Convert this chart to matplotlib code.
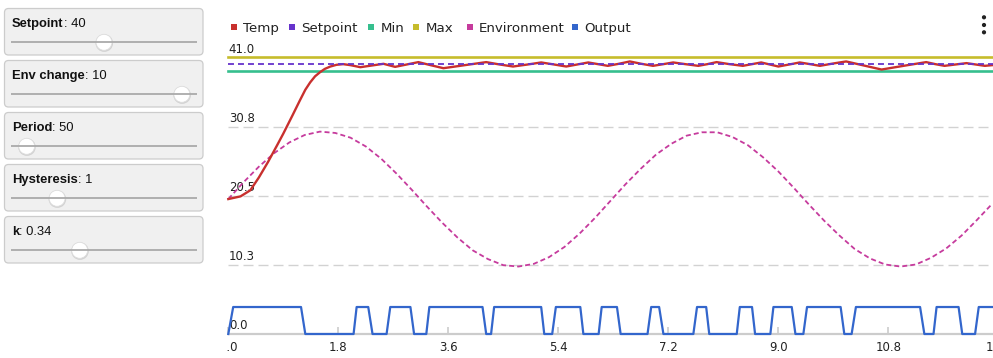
import matplotlib
matplotlib.use("Agg")
import matplotlib.pyplot as plt
from matplotlib import transforms as mtransforms
from matplotlib.patches import FancyBboxPatch, Circle, Rectangle

plt.rcParams["font.family"] = ["DejaVu Sans"]
plt.rcParams["lines.scale_dashes"] = False

# ---- data ------------------------------------------------------------------
slider_names = ["Setpoint", "Env change", "Period", "Hysteresis", "k"]
slider_values = ["40", "10", "50", "1", "0.34"]
slider_frac = [0.50, 0.958, 0.045, 0.224, 0.357]      # thumb position on track

series_names = ["Temp", "Setpoint", "Min", "Max", "Environment", "Output"]
series_colors = ["#c8302e", "#6633cc", "#36bf8e", "#c6bc2c", "#c63b9d", "#3366cc"]

setpoint = 40.0
min_level = 39.0
max_level = 41.0

temp_t = [0.0, 0.2, 0.36, 0.5, 0.65, 0.8, 0.9, 1.05, 1.17, 1.26, 1.34, 1.42,
          1.5, 1.58, 1.67, 1.77, 1.88, 2.0, 2.16, 2.35, 2.54, 2.73, 2.92, 3.11,
          3.31, 3.52, 3.87, 4.22, 4.44, 4.66, 4.9, 5.12, 5.33, 5.53, 5.71,
          5.89, 6.05, 6.21, 6.39, 6.57, 6.76, 6.95, 7.12, 7.28, 7.48, 7.69,
          7.84, 7.99, 8.2, 8.42, 8.57, 8.72, 8.86, 9.0, 9.18, 9.35, 9.52,
          9.68, 9.9, 10.11, 10.4, 10.69, 11.05, 11.42, 11.57, 11.72, 11.9,
          12.08, 12.23, 12.38, 12.5]
temp_v = [20.0, 20.4, 21.3, 23.2, 25.5, 28.0, 29.7, 32.4, 34.6, 36.2, 37.3, 38.2,
          38.8, 39.3, 39.65, 39.9, 40.0, 39.85, 39.55, 39.8, 40.05, 39.6, 39.95, 40.3,
          39.85, 39.4, 39.85, 40.3, 39.95, 39.65, 39.95, 40.25, 39.95, 39.65, 39.95,
          40.25, 40.0, 39.75, 40.05, 40.4, 40.05, 39.75, 40.0, 40.25, 40.0, 39.75,
          40.0, 40.3, 40.0, 39.75, 40.0, 40.25, 39.95, 39.65, 39.95, 40.25, 40.0,
          39.75, 40.1, 40.4, 39.8, 39.2, 39.75, 40.3, 40.0, 39.75, 39.95,
          40.15, 39.95, 39.75, 39.85]

env_t = [i * 0.25 for i in range(51)]
env_v = [20.0, 22.5, 24.8, 26.8, 28.4, 29.5, 30.0, 29.8, 29.1, 27.8, 26.0, 23.8,
         21.4, 18.9, 16.5, 14.3, 12.4, 11.1, 10.2, 10.0, 10.4, 11.4, 12.9, 14.9,
         17.2, 19.7, 22.2, 24.5, 26.6, 28.2, 29.4, 29.9, 29.9, 29.2, 28.0, 26.2,
         24.1, 21.7, 19.2, 16.8, 14.6, 12.6, 11.2, 10.3, 10.0, 10.3, 11.3, 12.7,
         14.6, 16.9, 19.3]

out_t = [0, 0.08, 1.19, 1.26, 2.05, 2.10, 2.29, 2.36, 2.59, 2.65, 2.98, 3.04,
         3.24, 3.29, 4.16, 4.22, 4.30, 4.35, 5.12, 5.17, 5.30, 5.36, 5.76, 5.81,
         6.06, 6.11, 6.36, 6.42, 6.86, 6.92, 7.05, 7.12, 7.61, 7.67, 7.82, 7.87,
         8.32, 8.37, 8.57, 8.62, 8.87, 8.92, 9.22, 9.28, 9.41, 9.47, 10.02, 10.08,
         10.20, 10.27, 11.32, 11.39, 11.54, 11.59, 11.95, 12.01, 12.22, 12.28, 12.6]
out_v = [0, 4, 4, 0, 0, 4, 4, 0, 0, 4, 4, 0,
         0, 4, 4, 0, 0, 4, 4, 0, 0, 4, 4, 0,
         0, 4, 4, 0, 0, 4, 4, 0, 0, 4, 4, 0,
         0, 4, 4, 0, 0, 4, 4, 0, 0, 4, 4, 0,
         0, 4, 4, 0, 0, 4, 4, 0, 0, 4, 4]

x_ticks = [0.0, 1.8, 3.6, 5.4, 7.2, 9.0, 10.8, 12.6]
x_labels = ["0.0", "1.8", "3.6", "5.4", "7.2", "9.0", "10.8", "12.6"]
y_ticks = [0.0, 10.25, 20.5, 30.75, 41.0]
y_labels = ["0.0", "10.3", "20.5", "30.8", "41.0"]

# ---- figure ----------------------------------------------------------------
W, H = 993, 358
fig = plt.figure(figsize=(W / 100, H / 100), dpi=100)
fig.patch.set_facecolor("white")

# pixel-space layer for the control panel, legend and menu icon
bg = fig.add_axes([0, 0, 1, 1])
bg.set_xlim(0, W)
bg.set_ylim(H, 0)
bg.axis("off")

renderer = fig.canvas.get_renderer()
for i, (name, val, frac) in enumerate(zip(slider_names, slider_values, slider_frac)):
    top = 8.5 + 52 * i
    bg.add_patch(FancyBboxPatch((4.5, top), 198.5, 46.5,
                                boxstyle="round,pad=0,rounding_size=4",
                                fc="#f0f0f0", ec="#cccccc", lw=0.9))
    t1 = bg.text(12, top + 18.8, name, fontsize=9.4, fontweight="bold",
                 family="Liberation Sans", va="baseline", color="#111111")
    bb = t1.get_window_extent(renderer=renderer)
    bg.text(bb.x1, top + 18.8, ": " + val, fontsize=9.4, family="Liberation Sans",
            va="baseline", color="#111111")
    ty = top + 33.8
    bg.plot([11, 197], [ty, ty], color="#aaaaaa", lw=1.3, solid_capstyle="butt")
    cx = 11 + 8 + frac * (186 - 16)
    bg.add_patch(Circle((cx + 0.3, ty + 0.8), 8.8, fc="#000000", alpha=0.12, ec="none"))
    bg.add_patch(Circle((cx, ty), 8.0, fc="white", ec="#dddddd", lw=0.6))

# legend
leg_sq_x = [230.7, 289.0, 368.0, 413.3, 466.7, 571.7]
for name, col, sx in zip(series_names, series_colors, leg_sq_x):
    bg.add_patch(Rectangle((sx, 23.7), 6, 6, fc=col, ec="none"))
    bg.text(sx + 12.5, 31.7, name, fontsize=9.6, va="baseline", color="#222222")

# menu dots
for yy in (17.3, 25.0, 32.3):
    bg.add_patch(Circle((984, yy), 2.1, fc="#222222", ec="none"))

# ---- chart -----------------------------------------------------------------
left_px, right_px = 228.3, 998.3
bottom_px, top_px = 334.0, 57.4
ax = fig.add_axes([left_px / W, (H - bottom_px) / H,
                   (right_px - left_px) / W, (bottom_px - top_px) / H])
ax.patch.set_alpha(0)
ax.set_xlim(0, 12.6)
ax.set_ylim(0, 41)
for s in ("top", "right", "left"):
    ax.spines[s].set_visible(False)
ax.spines["bottom"].set_color("#cccccc")
ax.spines["bottom"].set_linewidth(1.6)

ax.set_yticks(y_ticks[1:4])
ax.tick_params(axis="y", left=False, labelleft=False)
ax.grid(axis="y", color="#d2d2d2", lw=1.0, dashes=(7.2, 3.6))
ax.set_xticks(x_ticks)
ax.set_xticklabels(x_labels)
ax.tick_params(axis="x", direction="in", length=5, width=1.2, color="#cccccc",
               labelsize=8.5, labelcolor="#222222", pad=5)
ax.set_axisbelow(True)

ylab_tr = mtransforms.offset_copy(ax.get_yaxis_transform(), fig=fig, x=0.5, y=4.7, units="dots")
for v, lab in zip(y_ticks, y_labels):
    ax.text(0, v, lab, transform=ylab_tr, ha="left", va="baseline",
            fontsize=8.5, color="#222222", zorder=1)

ax.axhline(max_level, color=series_colors[3], lw=1.9, clip_on=False, zorder=3)
ax.axhline(min_level, color=series_colors[2], lw=1.9, clip_on=False, zorder=3)
ax.plot(env_t, env_v, color=series_colors[4], lw=1.3, dashes=(3.6, 2.2), zorder=4)
ax.plot(temp_t, temp_v, color=series_colors[0], lw=1.7, clip_on=False, zorder=5,
        solid_joinstyle="round")
ax.axhline(setpoint, color=series_colors[1], lw=1.3, dashes=(4.3, 2.9), zorder=6)
ax.plot(out_t, out_v, color=series_colors[5], lw=1.6, clip_on=False, zorder=7)

# left edge of the chart clips its first tick label
fig.add_artist(Rectangle((205 / W, 0), 21.5 / W, 26 / H, transform=fig.transFigure,
                         fc="white", ec="none", zorder=10))

fig.savefig("out.png", dpi=100)
